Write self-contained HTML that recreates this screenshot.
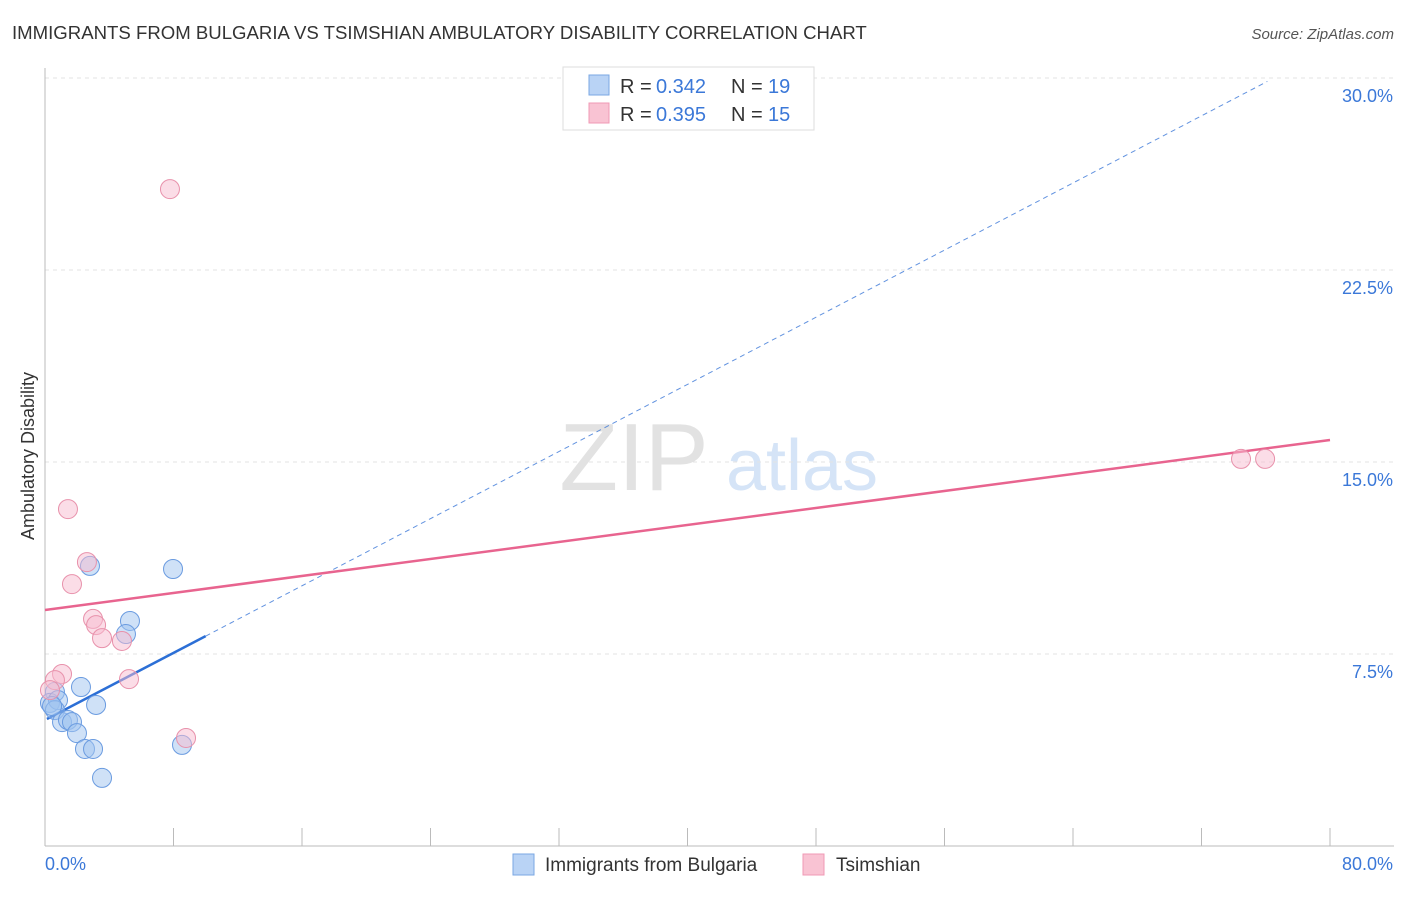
<!DOCTYPE html>
<html><head><meta charset="utf-8"><style>
body{margin:0;background:#fff;font-family:"Liberation Sans",sans-serif}
svg text{font-family:"Liberation Sans",sans-serif}
</style></head><body>
<svg id="chart" width="1406" height="892" xmlns="http://www.w3.org/2000/svg">
<text x="12" y="39" font-size="18.6" fill="#333">IMMIGRANTS FROM BULGARIA VS TSIMSHIAN AMBULATORY DISABILITY CORRELATION CHART</text>
<text x="1394" y="39" font-size="15" fill="#555" text-anchor="end" font-style="italic">Source: ZipAtlas.com</text>
<text transform="translate(34,456) rotate(-90)" font-size="18" fill="#333" text-anchor="middle">Ambulatory Disability</text>
<g>
<text x="634" y="490" font-size="96" fill="#e2e2e2" font-family="Liberation Serif" text-anchor="middle">ZIP</text>
<text x="802" y="490" font-size="72" fill="#d5e4f7" text-anchor="middle">atlas</text>
</g>
<g id="grid"></g><g id="axes"></g><g id="lines"></g><g id="points"></g>
<g>
<rect x="563" y="67" width="251" height="63" fill="#fff" stroke="#ddd"/>
<rect x="589" y="75" width="20" height="20" fill="#b9d3f5" stroke="#7aa7e3"/>
<rect x="589" y="103" width="20" height="20" fill="#f9c3d3" stroke="#f09ab5"/>
<text x="620" y="93" font-size="20" fill="#333">R =</text>
<text x="656" y="93" font-size="20" fill="#3b78d8">0.342</text>
<text x="731" y="93" font-size="20" fill="#333">N =</text>
<text x="768" y="93" font-size="20" fill="#3b78d8">19</text>
<text x="620" y="121" font-size="20" fill="#333">R =</text>
<text x="656" y="121" font-size="20" fill="#3b78d8">0.395</text>
<text x="731" y="121" font-size="20" fill="#333">N =</text>
<text x="768" y="121" font-size="20" fill="#3b78d8">15</text>
</g>
<g>
<rect x="513" y="854" width="21" height="21" fill="#b9d3f5" stroke="#7aa7e3"/>
<text x="545" y="871" font-size="19" fill="#333">Immigrants from Bulgaria</text>
<rect x="803" y="854" width="21" height="21" fill="#f9c3d3" stroke="#f09ab5"/>
<text x="836" y="871" font-size="19" fill="#333">Tsimshian</text>
</g>
</svg>
<script>
const yTicks=[7.5,15,22.5,30];
const yTickLabels=["7.5%","15.0%","22.5%","30.0%"];
const blueX=[0.62,0.31,0.81,0.62,1.06,1.43,1.68,1.99,2.49,2.99,3.55,2.24,3.18,2.80,5.29,5.04,7.97,8.53,0.44];
const blueY=[6.02,5.59,5.70,5.31,4.84,4.92,4.84,4.41,3.79,3.79,2.66,6.21,5.51,10.94,8.79,8.28,10.82,3.95,5.47];
const pinkX=[7.78,1.43,2.61,1.68,2.99,3.18,3.55,4.79,5.23,1.06,0.62,0.31,8.78,74.46,75.96];
const pinkY=[25.66,13.16,11.09,10.23,8.87,8.63,8.12,8.01,6.52,6.72,6.48,6.09,4.22,15.12,15.12];
const blueTrend=[4.92,0.3278];
const pinkTrend=[9.22,15.86];
const NS="http://www.w3.org/2000/svg";
const X=v=>45+v*1285/80, Y=v=>846-v*768/30;
function mk(p,t,a){const e=document.createElementNS(NS,t);for(const k in a)e.setAttribute(k,a[k]);document.getElementById(p).appendChild(e);return e;}
yTicks.forEach((t,i)=>{
 const g=mk('grid','line',{x1:45,x2:1394,y1:Y(t),y2:Y(t),stroke:'#e3e3e3','stroke-dasharray':'4,4'});
 
 
 const l=mk('grid','text',{x:1393,y:Y(t)+24,'font-size':18,fill:'#3b78d8','text-anchor':'end'});l.textContent=yTickLabels[i];
 
 
});
mk('axes','line',{x1:45,x2:45,y1:68,y2:846,stroke:'#bbb'});
mk('axes','line',{x1:45,x2:1394,y1:846,y2:846,stroke:'#bbb'});
for(let i=1;i<=10;i++){const x=45+i*128.5;mk('axes','line',{x1:x,x2:x,y1:828,y2:846,stroke:'#bbb'});}
let t=mk('axes','text',{x:45,y:870,'font-size':18,fill:'#3b78d8'});t.textContent='0.0%';


t=mk('axes','text',{x:1393,y:870,'font-size':18,fill:'#3b78d8','text-anchor':'end'});t.textContent='80.0%';


const bf=x=>blueTrend[0]+blueTrend[1]*x;
let ln=mk('lines','line',{x1:X(10),y1:Y(bf(10)),x2:X(76.1),y2:Y(bf(76.1)),stroke:'#3b78d8','stroke-width':1,'stroke-dasharray':'5,4',opacity:0.8});


ln=mk('lines','line',{x1:X(0.12),y1:Y(bf(0.12)),x2:X(10),y2:Y(bf(10)),stroke:'#2c6fd6','stroke-width':2.5});


ln=mk('lines','line',{x1:X(0),y1:Y(pinkTrend[0]),x2:X(80),y2:Y(pinkTrend[1]),stroke:'#e8648f','stroke-width':2.5});


blueX.forEach((x,i)=>{const c=mk('points','circle',{cx:X(x),cy:Y(blueY[i]),r:9.5,fill:'rgba(160,196,240,0.5)',stroke:'#6a9be0','stroke-width':1});
 
 });
pinkX.forEach((x,i)=>{const c=mk('points','circle',{cx:X(x),cy:Y(pinkY[i]),r:9.5,fill:'rgba(248,187,208,0.5)',stroke:'#e891ab','stroke-width':1});
 
 });
</script>
</body></html>
